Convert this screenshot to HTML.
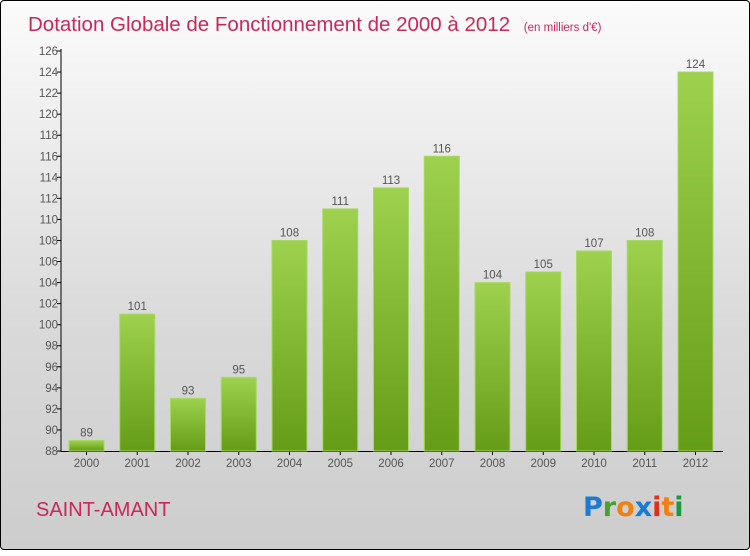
<!DOCTYPE html>
<html><head><meta charset="utf-8"><style>
body{margin:0;width:750px;height:550px;overflow:hidden;font-family:"Liberation Sans",sans-serif}
#frame{position:absolute;left:0;top:0;width:748px;height:548px;border:1px solid #000;border-radius:4px;background:linear-gradient(#fbfbfb,#d9d9d9 60%,#cdcdcd)}
</style></head><body>
<div id="frame">
<svg width="750" height="550">
<defs><linearGradient id="bg" x1="0" y1="0" x2="0" y2="1"><stop offset="0" stop-color="#9dd14e"/><stop offset="1" stop-color="#659c17"/></linearGradient></defs>
<text x="27" y="30" font-size="20.5" fill="#c8285a">Dotation Globale de Fonctionnement de 2000 à 2012 <tspan font-size="11.5" dx="8">(en milliers d'€)</tspan></text>
<text x="35" y="515" font-size="20" fill="#c8285a">SAINT-AMANT</text>
<g font-size="27" font-weight="bold" font-family="'DejaVu Sans',sans-serif">
<text x="582" y="515" fill="#1a7ad4">P<tspan fill="#4aa02c">r</tspan><tspan fill="#f08010">o</tspan><tspan fill="#1a7ad4">x</tspan><tspan fill="#e0301a">i</tspan><tspan fill="#f08010">t</tspan><tspan fill="#1a9a40">i</tspan></text></g>
<g id="axes"></g><g id="bars"></g>
</svg></div>
<script>
const years=["2000","2001","2002","2003","2004","2005","2006","2007","2008","2009","2010","2011","2012"];
const values=[89,101,93,95,108,111,113,116,104,105,107,108,124];
const ticks=[88,90,92,94,96,98,100,102,104,106,108,110,112,114,116,118,120,122,124,126];
const NS="http://www.w3.org/2000/svg";
const y=v=>450-(v-88)*400/38;
const x=i=>85.5+i*50.75;
function mk(t,a,p){const e=document.createElementNS(NS,t);for(const k in a)e.setAttribute(k,a[k]);p.appendChild(e);return e;}
const ax=document.getElementById('axes'),bs=document.getElementById('bars');
const yl=mk('line',{x1:60,y1:48,x2:60,y2:451,stroke:'#000'},ax);


const xl=mk('line',{x1:60,y1:450.5,x2:722,y2:450.5,stroke:'#000'},ax);


ticks.forEach(t=>{mk('line',{x1:56,x2:60,y1:y(t),y2:y(t),stroke:'#000'},ax);
const tx=mk('text',{x:57,y:y(t)+4,'font-size':11.5,fill:'#555','text-anchor':'end'},ax);tx.textContent=t;

});
years.forEach((yr,i)=>{
mk('line',{x1:x(i),x2:x(i),y1:450,y2:454,stroke:'#000'},ax);
const t=mk('text',{x:x(i),y:466,'font-size':11.5,fill:'#555','text-anchor':'middle'},ax);t.textContent=yr;


const r=mk('rect',{x:x(i)-17.5,y:y(values[i]),width:35,height:450-y(values[i]),fill:'url(#bg)',stroke:'#a8d865','stroke-width':1},bs);


const l=mk('text',{x:x(i),y:y(values[i])-4,'font-size':11.5,fill:'#555','text-anchor':'middle'},bs);l.textContent=values[i];


});
</script>
</body></html>
